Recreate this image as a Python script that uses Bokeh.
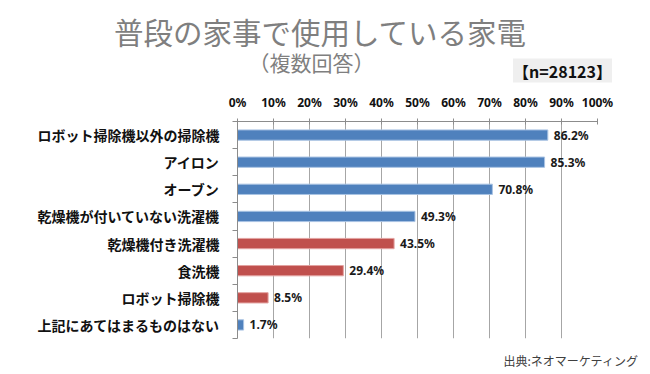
from bokeh.plotting import figure
from bokeh.layouts import column
from bokeh.models import Range1d, FixedTicker, PrintfTickFormatter, ColumnDataSource
from bokeh.core.properties import value
from bokeh.embed import file_html
from bokeh.resources import INLINE

categories = ["ロボット掃除機以外の掃除機", "アイロン", "オーブン", "乾燥機が付いていない洗濯機",
              "乾燥機付き洗濯機", "食洗機", "ロボット掃除機", "上記にあてはまるものはない"]
values = [86.2, 85.3, 70.8, 49.3, 43.5, 29.4, 8.5, 1.7]
highlight = [False, False, False, False, True, True, True, False]
x_ticks = [0, 10, 20, 30, 40, 50, 60, 70, 80, 90, 100]

title_text = "普段の家事で使用している家電"
subtitle_text = "（複数回答）"
n_text = "【n=28123】"
source_text = "出典:ネオマーケティング"

JP = "Noto Sans CJK JP"
BLUE, RED = "#4f81bd", "#c0504d"
BLUE_EDGE, RED_EDGE = "#a9c3e3", "#e3a3a1"
W = 645
HEAD_H, MAIN_H, FOOT_H = 90, 250, 32


def blank(height):
    f = figure(width=W, height=height, output_backend="svg", toolbar_location=None,
               x_range=Range1d(0, W), y_range=Range1d(height, 0),
               x_axis_type=None, y_axis_type=None, min_border=0)
    f.outline_line_color = None
    f.grid.grid_line_color = None
    f.frame_align = False
    return f


# ---- header ----
head = blank(HEAD_H)
head.text(x=[320], y=[30], text=[title_text], text_align="center", text_baseline="middle",
          text_font=value(JP), text_font_size="29.5px", text_color="#7f7f7f")
head.text(x=[311], y=[61], text=[subtitle_text], text_align="center", text_baseline="middle",
          text_font=value(JP), text_font_size="21px", text_color="#7f7f7f")
head.rect(x=[562], y=[70], width=99, height=24, fill_color="#efefef", line_color=None)
head.text(x=[562], y=[70], text=[n_text], text_align="center", text_baseline="middle",
          text_font=value(JP), text_font_style="bold", text_font_size="16px", text_color="#111111")

# ---- main chart ----
ypos = [i + 0.5 for i in range(len(categories))]
src = ColumnDataSource(dict(
    y=ypos, v=values, cat=categories,
    lab=[f"{v:.1f}%" for v in values],
    fill=[RED if h else BLUE for h in highlight],
    edge=[RED_EDGE if h else BLUE_EDGE for h in highlight],
))

p = figure(width=W, height=MAIN_H, output_backend="svg", toolbar_location=None,
           x_range=Range1d(0, 100), y_range=Range1d(len(categories), 0),
           x_axis_location="above",
           min_border_left=237, min_border_right=W - 597, min_border_top=28, min_border_bottom=2)
p.outline_line_color = None
p.frame_align = False

p.hbar(y="y", right="v", left=0, height=0.38, source=src,
       fill_color="fill", line_color="edge", line_width=1)
p.text(x="v", y="y", text="lab", source=src, x_offset=6,
       text_baseline="middle", text_align="left",
       text_font=value("Noto Sans"), text_font_style="bold",
       text_font_size="12px", text_color="#1a1a1a")

xa = p.xaxis[0]
xa.ticker = FixedTicker(ticks=x_ticks)
xa.formatter = PrintfTickFormatter(format="%d%%")
xa.axis_line_color = "#8c8c8c"
xa.major_tick_line_color = "#8c8c8c"
xa.major_tick_in = 3
xa.major_tick_out = 3
xa.minor_tick_line_color = None
xa.major_label_standoff = 8
xa.major_label_text_font = "Noto Sans"
xa.major_label_text_font_style = "bold"
xa.major_label_text_font_size = "12px"
xa.major_label_text_color = "#111111"

ya = p.yaxis[0]
ya.ticker = FixedTicker(ticks=ypos, minor_ticks=list(range(len(categories) + 1)))
ya.major_label_overrides = {y: c for y, c in zip(ypos, categories)}
ya.axis_line_color = "#8c8c8c"
ya.major_tick_line_color = None
ya.major_tick_in = 0
ya.major_tick_out = 0
ya.minor_tick_line_color = "#8c8c8c"
ya.minor_tick_in = 0
ya.minor_tick_out = 5
ya.major_label_standoff = 13
ya.major_label_text_font = JP
ya.major_label_text_font_style = "bold"
ya.major_label_text_font_size = "14px"
ya.major_label_text_color = "#111111"

p.xgrid.ticker = FixedTicker(ticks=x_ticks)
p.xgrid.grid_line_color = "#a6a6a6"
p.ygrid.grid_line_color = None

# ---- footer ----
foot = blank(FOOT_H)
foot.text(x=[503], y=[20], text=[source_text], text_align="left", text_baseline="middle",
          text_font=value(JP), text_font_size="12px", text_color="#404040")

layout = column(head, p, foot, spacing=0)
open("out.html", "w").write(file_html(layout, INLINE))
